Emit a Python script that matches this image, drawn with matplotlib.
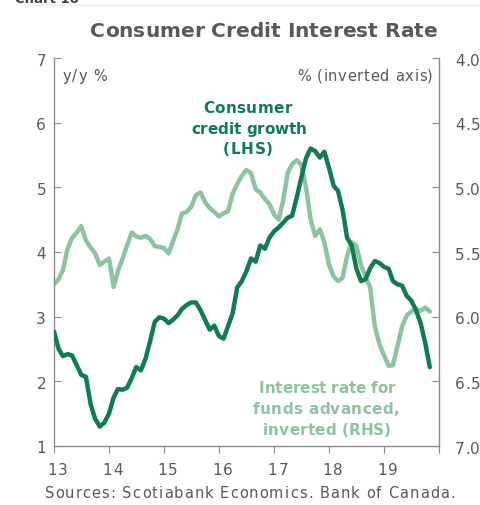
import matplotlib
matplotlib.use("Agg")
import matplotlib.pyplot as plt
import matplotlib.dates as mdates
from matplotlib.font_manager import FontProperties
from matplotlib.transforms import IdentityTransform
import pandas as pd

plt.rcParams['font.family'] = ['DejaVu Sans']

# Monthly, Jan 2013 .. Nov 2019
dates = pd.date_range("2013-01-01", periods=83, freq="MS")

credit_growth = [
    2.77, 2.50, 2.39, 2.42, 2.40, 2.25, 2.10, 2.07, 1.65, 1.42,
    1.30, 1.36, 1.50, 1.75, 1.88, 1.87, 1.90, 2.05, 2.22, 2.17,
    2.35, 2.62, 2.92, 2.99, 2.97, 2.90, 2.95, 3.02, 3.12, 3.18,
    3.22, 3.22, 3.10, 2.95, 2.80, 2.86, 2.70, 2.66, 2.85, 3.05,
    3.45, 3.55, 3.70, 3.90, 3.85, 4.10, 4.05, 4.22, 4.32, 4.38,
    4.45, 4.53, 4.56, 4.85, 5.15, 5.45, 5.60, 5.56, 5.46, 5.55,
    5.30, 5.02, 4.95, 4.65, 4.22, 4.10, 3.75, 3.55, 3.58, 3.75,
    3.86, 3.83, 3.77, 3.74, 3.55, 3.50, 3.48, 3.32, 3.25, 3.10,
    2.90, 2.60, 2.22,
]

interest_rate = [
    5.75, 5.71, 5.64, 5.475, 5.39, 5.35, 5.30, 5.41, 5.465, 5.51,
    5.60, 5.575, 5.55, 5.77, 5.65, 5.55, 5.45, 5.35, 5.38, 5.39,
    5.375, 5.40, 5.455, 5.46, 5.47, 5.51, 5.42, 5.325, 5.20, 5.19,
    5.15, 5.06, 5.04, 5.115, 5.16, 5.19, 5.225, 5.20, 5.185, 5.05,
    4.975, 4.91, 4.865, 4.89, 5.015, 5.04, 5.09, 5.13, 5.21, 5.25,
    5.11, 4.89, 4.82, 4.79, 4.825, 5.00, 5.25, 5.375, 5.325, 5.425,
    5.60, 5.69, 5.725, 5.70, 5.53, 5.425, 5.45, 5.60, 5.69, 5.775,
    6.075, 6.21, 6.30, 6.38, 6.375, 6.225, 6.075, 5.99, 5.96, 5.94,
    5.955, 5.93, 5.96,
]

year_ticks = ["13", "14", "15", "16", "17", "18", "19"]
left_ticks = [1, 2, 3, 4, 5, 6, 7]
right_ticks = ["4.0", "4.5", "5.0", "5.5", "6.0", "6.5", "7.0"]

DARK = "#0f7d50"
LIGHT = "#8cc4a1"
GRAY = "#595959"
SPINE = "#8c8c8c"
W, H = 481, 506

fig = plt.figure(figsize=(W / 100, H / 100), dpi=100)
ax = fig.add_axes([54 / W, 1 - 447 / H, 385 / W, 388 / H])
ax2 = ax.twinx()

ax2.plot(dates, interest_rate, color=LIGHT, lw=3.2, solid_joinstyle='round', solid_capstyle='round', zorder=2)
ax.plot(dates, credit_growth, color=DARK, lw=3.2, solid_joinstyle='round', solid_capstyle='round', zorder=3)
ax.set_zorder(ax2.get_zorder() + 1)
ax.patch.set_visible(False)

x0d, x1d = pd.Timestamp("2013-01-01"), pd.Timestamp("2020-01-01")
ax.set_xlim(x0d, x1d)
ax.set_ylim(1, 7)
ax2.set_ylim(7.0, 4.0)

xt = [pd.Timestamp(f"20{y}-01-01") for y in year_ticks] + [x1d]
ax.set_xticks(xt)
ax.set_xticklabels([])
ax.set_yticks(left_ticks)
ax.set_yticklabels([])
ax2.set_yticks([float(v) for v in right_ticks])
ax2.set_yticklabels([])

for a in (ax, ax2):
    a.spines["top"].set_visible(False)
    for s in ("left", "right", "bottom"):
        a.spines[s].set_color(SPINE)
        a.spines[s].set_linewidth(1.0)
ax.spines["right"].set_visible(False)
ax2.spines["left"].set_visible(False)
ax2.spines["bottom"].set_visible(False)

ax.tick_params(axis='y', direction='in', length=5, color=SPINE)
ax.tick_params(axis='x', direction='out', length=5, color=SPINE)
ax2.tick_params(axis='y', direction='in', length=5, color=SPINE)

renderer = fig.canvas.get_renderer()


def draw_text(s, x, base_y, size, weight='normal', color=GRAY, tracking=0.0,
              ha='left', x_right=None):
    """Draw text with letter spacing; x, base_y in image pixel coords."""
    fp = FontProperties(family=['DejaVu Sans'], size=size, weight=weight)

    def w(t):
        return renderer.get_text_width_height_descent(t, fp, ismath=False)[0]

    ref = w("x")
    offs = [w(s[:i] + "x") - ref for i in range(len(s))]
    natural = w(s)
    n = len(s)
    if x_right is not None and n > 1:
        tracking = (x_right - x - natural) / (n - 1)
    total = natural + tracking * (n - 1)
    if ha == 'center':
        x = x - total / 2
    elif ha == 'right':
        x = x - total
    for i, ch in enumerate(s):
        if ch == ' ':
            continue
        fig.text(x + offs[i] + i * tracking, H - base_y, ch, transform=IdentityTransform(),
                 ha='left', va='baseline', fontproperties=fp, color=color)


# tick labels
for lab, d in zip(year_ticks, xt):
    px = ax.transData.transform((mdates.date2num(d), 1))[0]
    draw_text(lab, px + 3.5, 475, 11, tracking=1.5, ha='center')
for v in left_ticks:
    py = H - ax.transData.transform((mdates.date2num(x0d), v))[1]
    draw_text(str(v), 46, py + 6.5, 11, ha='right')
for lab in right_ticks:
    py = H - ax2.transData.transform((mdates.date2num(x0d), float(lab)))[1]
    draw_text(lab, 455, py + 6.5, 11, x_right=480)

# axis unit labels
draw_text("y/y %", 63, 81, 10.5, x_right=107)
draw_text("% (inverted axis)", 297, 81, 10.5, x_right=433)

# series annotations
for s, x0, x1, by in [("Consumer", 203, 292, 113),
                      ("credit growth", 191, 307, 134),
                      ("(LHS)", 223, 273, 154)]:
    draw_text(s, x0, by, 11, weight='bold', color=DARK, x_right=x1)
for s, x0, x1, by in [("Interest rate for", 259, 395, 393),
                      ("funds advanced,", 253, 399, 414),
                      ("inverted (RHS)", 263, 391, 435)]:
    draw_text(s, x0, by, 11, weight='bold', color=LIGHT, x_right=x1)

# title, source, partially visible header (cut off at the top, as in the reference)
draw_text("Consumer Credit Interest Rate", 90, 37, 14.5, weight='bold', color=GRAY, x_right=437)
draw_text("Sources: Scotiabank Economics. Bank of Canada.", 45, 498, 10.5, x_right=455)
fig.text(15, H - 3, "Chart 10", transform=IdentityTransform(), ha='left', va='baseline',
         fontsize=9.5, fontweight='bold', color="#404040")
fig.add_artist(plt.Line2D([25 / W, 1], [1 - 6 / H, 1 - 6 / H], transform=fig.transFigure,
                          color="#eeeeee", lw=1))

fig.savefig("out.png", dpi=100)
